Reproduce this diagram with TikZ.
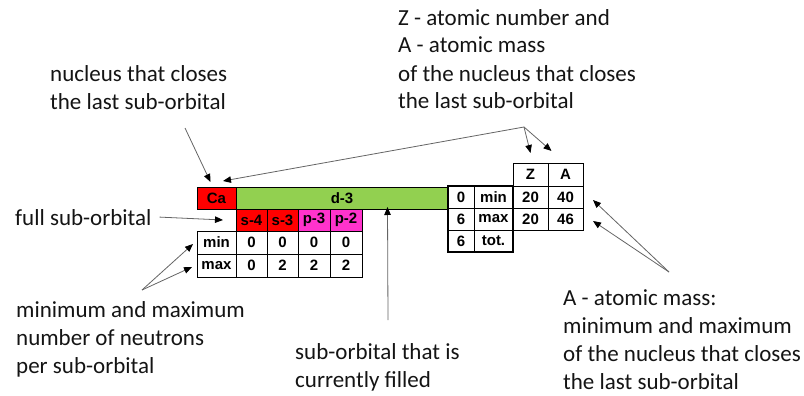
\documentclass[tikz,border=0pt]{standalone}
\usepackage{fontspec}
\setmainfont{Carlito}
\newfontfamily\tabfont{Liberation Sans}[BoldFont={Liberation Sans Bold}]
\usetikzlibrary{arrows.meta}
\definecolor{cred}{RGB}{255,0,0}
\definecolor{cgreen}{RGB}{146,208,80}
\definecolor{cmag}{RGB}{255,51,204}
\definecolor{ctext}{RGB}{20,20,20}
\definecolor{carrow}{RGB}{100,100,100}
\begin{document}
\begin{tikzpicture}[x=1pt,y=-1pt,
  cell/.style={draw=black, line width=0.7pt, inner sep=0pt, outer sep=0pt, anchor=north west,
    font=\tabfont\bfseries\fontsize{15}{17}\selectfont, text=black},
  lbl/.style={inner sep=0pt, anchor=base west, align=left, text=ctext,
    font=\fontsize{23}{28}\selectfont},
  arr/.style={draw=carrow, line width=0.8pt, -{Triangle[length=8pt,width=6.5pt,color=black]}}]
\useasboundingbox (0,0) rectangle (804,396);
% left table
\node[cell, fill=cred, minimum width=39pt, minimum height=22pt] (ca) at (197,187) {Ca};
\node[cell, fill=cgreen, minimum width=212pt, minimum height=22pt] (d3) at (236,187) {d-3};
\node[cell, fill=cred, minimum width=31pt, minimum height=22pt] (s4) at (236,209) {s-4};
\node[cell, fill=cred, minimum width=31pt, minimum height=22pt] (s3) at (267,209) {s-3};
\node[cell, fill=cmag, minimum width=32pt, minimum height=22pt] (p3) at (298,209) {p-3};
\node[cell, fill=cmag, minimum width=32pt, minimum height=22pt] (p2) at (330,209) {p-2};
\node[cell, minimum width=39pt, minimum height=23pt] (minl) at (197,231) {min};
\node[cell, minimum width=31pt, minimum height=23pt] (mina) at (236,231) {0};
\node[cell, minimum width=31pt, minimum height=23pt] (minb) at (267,231) {0};
\node[cell, minimum width=32pt, minimum height=23pt] (minc) at (298,231) {0};
\node[cell, minimum width=32pt, minimum height=23pt] (mind) at (330,231) {0};
\node[cell, minimum width=39pt, minimum height=23pt] (maxl) at (197,254) {max};
\node[cell, minimum width=31pt, minimum height=23pt] (maxa) at (236,254) {0};
\node[cell, minimum width=31pt, minimum height=23pt] (maxb) at (267,254) {2};
\node[cell, minimum width=32pt, minimum height=23pt] (maxc) at (298,254) {2};
\node[cell, minimum width=32pt, minimum height=23pt] (maxd) at (330,254) {2};
% right tables
\node[cell, minimum width=26pt, minimum height=22pt] (r0) at (448,186) {0};
\node[cell, minimum width=39pt, minimum height=22pt] (rmin) at (474,186) {min};
\node[cell, minimum width=26pt, minimum height=22pt] (r6a) at (448,208) {6};
\node[cell, minimum width=39pt, minimum height=22pt] (rmax) at (474,208) {max};
\node[cell, minimum width=26pt, minimum height=22pt] (r6b) at (448,230) {6};
\node[cell, minimum width=39pt, minimum height=22pt] (rtot) at (474,230) {tot.};
\node[cell, minimum width=35pt, minimum height=23pt] (zh) at (513,163) {Z};
\node[cell, minimum width=35pt, minimum height=23pt] (ah) at (548,163) {A};
\node[cell, minimum width=35pt, minimum height=22pt] (z1) at (513,186) {20};
\node[cell, minimum width=35pt, minimum height=22pt] (a1) at (548,186) {40};
\node[cell, minimum width=35pt, minimum height=22pt] (z2) at (513,208) {20};
\node[cell, minimum width=35pt, minimum height=22pt] (a2) at (548,208) {46};
\draw[line width=2pt] (r0.north west) rectangle (rtot.south east);
% labels (anchored at the baseline of their last line)
\node[lbl] (tnuc) at (50,110) {nucleus that closes\\the last sub-orbital};
\node[lbl] (ttop) at (398,109) {Z - atomic number and\\A - atomic mass\\of the nucleus that closes\\the last sub-orbital};
\node[lbl] (tfull) at (15,225) {full sub-orbital};
\node[lbl] (tminmax) at (16,373) {minimum and maximum\\number of neutrons\\per sub-orbital};
\node[lbl] (tfill) at (295,387) {sub-orbital that is\\currently filled};
\node[lbl] (tmass) at (563,389) {A - atomic mass:\\minimum and maximum\\of the nucleus that closes\\the last sub-orbital};
% connector sources
\coordinate (snuc) at (185,128);
\coordinate (stop) at (524,127);
\coordinate (sfill) at (388,320);
\coordinate (sminmax) at (142,290);
\coordinate (smass) at (669,272);
% connectors
\draw[arr] (snuc) -- ([xshift=-6pt,yshift=5pt]ca.north);
\draw[arr] (stop) -- ([xshift=-13pt,yshift=6pt]ca.north east);
\draw[arr] (stop) -- ([yshift=10pt]zh.north);
\draw[arr] (stop) -- ([xshift=-14pt,yshift=12pt]ah.north);
\draw[arr] ([xshift=8pt]tfull.east) -- ([xshift=-13pt]s4.west);
\draw[arr] (sfill) -- ([xshift=45.5pt,yshift=2pt]d3.south);
\draw[arr] (sminmax) -- ([xshift=-4pt,yshift=-1.5pt]minl.west);
\draw[arr] (sminmax) -- ([xshift=-5pt,yshift=-1.5pt]maxl.west);
\draw[arr] (smass) -- ([xshift=10pt,yshift=-3pt]a1.east);
\draw[arr] (smass) -- ([xshift=10pt,yshift=-2pt]a2.east);
\end{tikzpicture}
\end{document}
